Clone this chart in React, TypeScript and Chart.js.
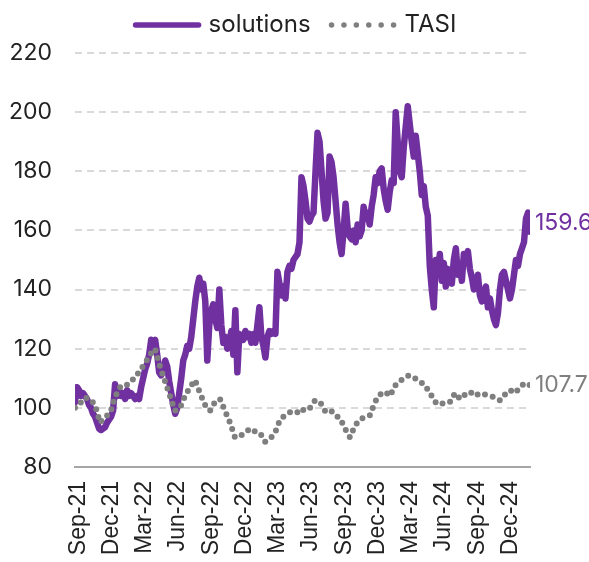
import React, { useEffect, useRef } from 'react';
import { Chart, registerables } from 'chart.js';

Chart.register(...registerables);

// ---------- DATA ----------
const START_DATE = '2021-08-23';
const END_DATE = '2025-01-23';

const tickLabels = [
  'Sep-21', 'Dec-21', 'Mar-22', 'Jun-22', 'Sep-22', 'Dec-22', 'Mar-23',
  'Jun-23', 'Sep-23', 'Dec-23', 'Mar-24', 'Jun-24', 'Sep-24', 'Dec-24',
];

const seriesNames = ['solutions', 'TASI'];

// evenly spaced samples between START_DATE and END_DATE
const solutionsValues = [
  102, 107, 106, 104, 105, 104, 103, 101, 100, 98, 97, 95, 93, 92.5, 93, 93.5, 95, 96, 97, 99,
  108, 104, 106, 104, 105, 103, 106, 104, 105, 104, 103, 104, 103, 107, 110, 113, 115, 118, 123, 122,
  123, 118, 112, 111, 113, 116, 114, 109, 105, 101, 98, 100, 105, 110, 116, 118, 121, 120, 124, 130,
  136, 141, 144, 140, 142, 136, 116, 128, 133, 135, 130, 127, 140, 128, 122, 124, 120, 122, 126, 118,
  133, 112, 125, 124, 123, 126, 124, 125, 122, 125, 122, 128, 134, 124, 121, 117, 124, 126, 125, 126,
  125, 146, 142, 138, 141, 137, 146, 148, 147, 150, 151, 152, 156, 178, 175, 170, 164, 163, 165, 166,
  180, 193, 190, 180, 170, 164, 166, 185, 183, 178, 170, 162, 156, 152, 160, 169, 161, 158, 157, 160,
  156, 162, 158, 160, 168, 164, 166, 162, 168, 172, 178, 176, 180, 181, 174, 170, 167, 173, 177, 176,
  200, 190, 180, 178, 188, 195, 202, 196, 190, 185, 192, 186, 180, 172, 175, 168, 165, 148, 140, 134,
  150, 145, 152, 143, 149, 141, 147, 145, 142, 150, 154, 145, 148, 143, 152, 150, 153, 147, 144, 140,
  142, 145, 138, 136, 139, 141, 134, 137, 133, 130, 128, 132, 140, 145, 146, 143, 140, 137, 140, 145,
  150, 148, 152, 154, 156, 164, 166, 159.6,
];

const tasiValues = [
  100, 101.5, 103.5, 103, 101, 95, 97, 98, 103.6, 107, 107, 109, 110, 112.7, 115, 118, 120, 114, 109, 104,
  99, 100, 104, 107, 109.4, 105, 101, 99, 102, 103, 99, 95, 90, 90.5, 91.5, 93, 92, 91.5, 88.5, 89.5,
  91.5, 96, 97.5, 98.5, 99, 98, 100, 100, 102.5, 102, 99, 99.5, 97.5, 96.5, 93, 90, 94, 96, 97, 97.5,
  102, 104.5, 105.5, 104, 107.5, 109, 110.5, 111, 110, 109, 107.5, 105, 102, 101, 102, 102, 105, 103, 104.5, 105.5,
  104, 105, 104.5, 104, 103.5, 102.5, 104.5, 106, 105, 107, 108.5, 107.7,
];

// ---------- HELPERS ----------
const DAY = 86400000;
const MONTHS: Record<string, number> = {
  Jan: 0, Feb: 1, Mar: 2, Apr: 3, May: 4, Jun: 5, Jul: 6, Aug: 7, Sep: 8, Oct: 9, Nov: 10, Dec: 11,
};
const startMs = Date.parse(START_DATE);
const totalDays = (Date.parse(END_DATE) - startMs) / DAY;

function toPoints(values: number[]) {
  return values.map((v, i) => ({ x: (i * totalDays) / (values.length - 1), y: v }));
}
function tickDay(label: string) {
  const [m, y] = label.split('-');
  return (Date.UTC(2000 + Number(y), MONTHS[m], 1) - startMs) / DAY;
}

const PURPLE = '#7030A0';
const GRAY = '#7F7F7F';
const TEXT = '#222222';
const SANS = 'Inter, "Noto Sans", sans-serif';

const endLabelPlugin = {
  id: 'endLabels',
  afterDatasetsDraw(chart: any) {
    const ctx = chart.ctx;
    ctx.save();
    ctx.font = `23px ${SANS}`;
    ctx.textAlign = 'left';
    ctx.textBaseline = 'middle';
    chart.data.datasets.forEach((ds: any, i: number) => {
      const meta = chart.getDatasetMeta(i);
      const pts = meta.data;
      const last = pts[pts.length - 1];
      const val = ds.data[ds.data.length - 1].y;
      ctx.fillStyle = ds.borderColor;
      ctx.fillText(val.toFixed(1), last.x + 5, last.y + (ds.endLabelOffset || 0));
    });
    ctx.restore();
  },
};

const legendPlugin = {
  id: 'customLegend',
  afterDraw(chart: any) {
    const ctx = chart.ctx;
    const order = seriesNames.map((n) => chart.data.datasets.find((d: any) => d.label === n));
    ctx.save();
    ctx.font = `24px ${SANS}`;
    ctx.textBaseline = 'middle';
    const boxW = 68;
    const gap = 8;
    const itemGap = 18;
    const widths = order.map((d: any) => boxW + gap + ctx.measureText(d.label).width);
    const total = widths.reduce((a: number, b: number) => a + b, 0) + itemGap * (order.length - 1);
    let x = chart.width / 2 - total / 2;
    const y = 25;
    order.forEach((d: any, i: number) => {
      ctx.beginPath();
      ctx.strokeStyle = d.borderColor;
      ctx.lineCap = 'round';
      if (d.borderDash && d.borderDash.length) {
        ctx.setLineDash([0, 12.4]);
      } else {
        ctx.setLineDash([]);
      }
      ctx.lineWidth = 5.5;
      ctx.moveTo(x + 3, y);
      ctx.lineTo(x + boxW - 2, y);
      ctx.stroke();
      ctx.setLineDash([]);
      ctx.fillStyle = TEXT;
      ctx.fillText(d.label, x + boxW + gap, y);
      x += widths[i] + itemGap;
    });
    ctx.restore();
  },
};

export default function App() {
  const ref = useRef<HTMLCanvasElement | null>(null);

  useEffect(() => {
    document.body.style.margin = '0';
    const canvas = ref.current;
    if (!canvas) return;
    const chart = new Chart(canvas, {
      type: 'line',
      data: {
        datasets: [
          {
            label: seriesNames[1],
            data: toPoints(tasiValues),
            borderColor: GRAY,
            borderWidth: 6,
            borderDash: [0, 8],
            borderCapStyle: 'round',
            pointRadius: 0,
            fill: false,
            tension: 0,
            endLabelOffset: 0,
          } as any,
          {
            label: seriesNames[0],
            data: toPoints(solutionsValues),
            borderColor: PURPLE,
            borderWidth: 6.5,
            borderJoinStyle: 'round',
            borderCapStyle: 'round',
            pointRadius: 0,
            fill: false,
            tension: 0,
            endLabelOffset: -9,
          } as any,
        ],
      },
      options: {
        animation: false,
        responsive: false,
        maintainAspectRatio: false,
        layout: { padding: { top: 53, right: 59, left: 0, bottom: 0 } },
        plugins: {
          legend: { display: false },
          tooltip: { enabled: false },
        },
        scales: {
          x: {
            type: 'linear',
            min: 0,
            max: totalDays,
            grid: { display: false },
            border: { display: true, color: '#A6A6A6', width: 2 },
            afterBuildTicks: (axis: any) => {
              axis.ticks = tickLabels.map((l) => ({ value: tickDay(l) }));
            },
            afterFit: (axis: any) => {
              axis.height = 95;
            },
            ticks: {
              autoSkip: false,
              maxRotation: 90,
              minRotation: 90,
              padding: 6,
              labelOffset: 0,
              color: TEXT,
              font: { family: '"Liberation Sans", Arial, sans-serif', size: 23 },
              callback: (_v: any, i: number) => tickLabels[i],
            },
          },
          y: {
            min: 80,
            max: 220,
            ticks: {
              stepSize: 20,
              padding: 23,
              color: TEXT,
              font: { family: SANS, size: 23 },
            },
            grid: { color: '#D9D9D9', lineWidth: 2, drawTicks: false },
            border: { display: false, dash: [7, 5] },
            afterFit: (axis: any) => {
              axis.width = 75;
            },
          },
        },
      } as any,
      plugins: [endLabelPlugin, legendPlugin],
    });
    return () => chart.destroy();
  }, []);

  return (
    <div style={{ width: 589, height: 562 }}>
      <canvas ref={ref} width={589} height={562} style={{ display: 'block', width: 589, height: 562 }} />
    </div>
  );
}
